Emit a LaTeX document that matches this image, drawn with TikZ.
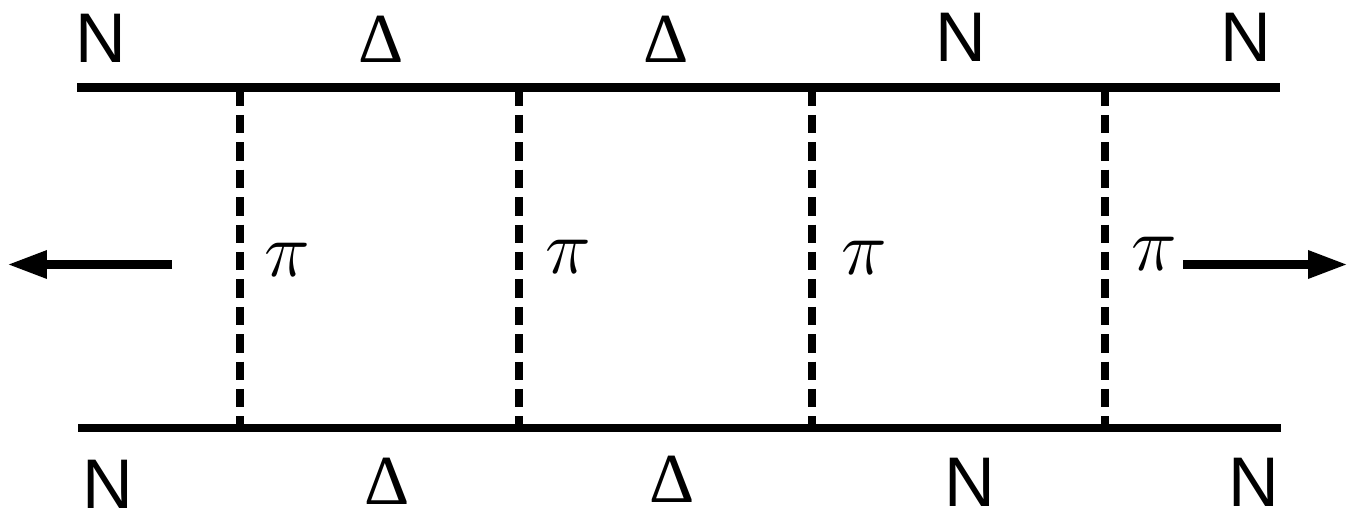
\documentclass[tikz,border=0pt]{standalone}
\usepackage{fix-cm}
\usepackage{fontspec}
\setmainfont{Liberation Sans}
\newfontfamily\deltafont{Liberation Serif}
\usetikzlibrary{arrows.meta}

\begin{document}
\begin{tikzpicture}[x=0.02cm,y=-0.02cm,>={Triangle[length=0.8cm,width=0.52cm]},line width=5.1pt,
  nlbl/.style={inner sep=0pt,font=\fontsize{40}{48}\selectfont},
  dlbl/.style={inner sep=0pt,font=\fontsize{40}{48}\selectfont\deltafont},
  plbl/.style={inner sep=0pt,font=\fontsize{44}{52}\selectfont},
  pion/.style={dash pattern=on 10.5pt off 5.1pt}]
\useasboundingbox (0,0) rectangle (1355,517);
% nucleon lines
\coordinate (tl) at (77,87.5); \coordinate (tr) at (1280,87.5);
\coordinate (bl) at (78,428);  \coordinate (br) at (1281,428);
\draw (tl) -- (tr);
\draw (bl) -- (br);
% pion exchanges
\foreach \x [count=\i] in {240,519,812,1105} {
  \coordinate (t\i) at (\x,87.5);
  \coordinate (b\i) at (\x,428);
  \draw[pion] (t\i) -- (b\i);
}
% outgoing
\coordinate (la) at (172,264.5); \coordinate (lb) at (7,264.5);
\coordinate (ra) at (1183,264.5); \coordinate (rb) at (1348,264.5);
\draw[->] (la) -- (lb);
\draw[->] (ra) -- (rb);
% labels
\node[nlbl] (nt1) at (101,38) {N};
\node[dlbl] (dt1) at (381,39) {Δ};
\node[dlbl] (dt2) at (666,39) {Δ};
\node[nlbl] (nt2) at (961,37) {N};
\node[nlbl] (nt3) at (1246,37) {N};
\node[nlbl] (nb1) at (108,484) {N};
\node[dlbl] (db1) at (387,481) {Δ};
\node[dlbl] (db2) at (672,479) {Δ};
\node[nlbl] (nb2) at (970,482) {N};
\node[nlbl] (nb3) at (1254,482) {N};
\node[plbl] (p1) at (287,260) {$\pi$};
\node[plbl] (p2) at (568,257) {$\pi$};
\node[plbl] (p3) at (864,258) {$\pi$};
\node[plbl] (p4) at (1154,254) {$\pi$};
\end{tikzpicture}
\end{document}
